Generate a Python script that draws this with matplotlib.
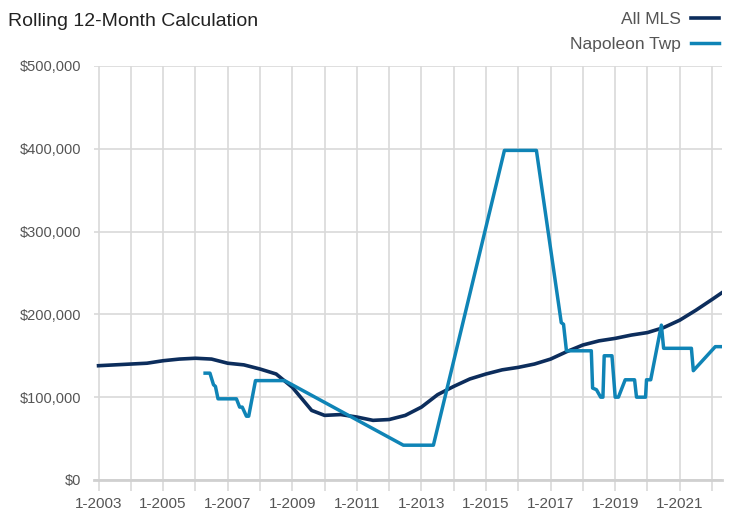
import matplotlib
matplotlib.use("Agg")
import matplotlib.pyplot as plt
from matplotlib.ticker import FuncFormatter, MultipleLocator

plt.rcParams["font.family"] = ["Liberation Sans", "DejaVu Sans"]

# fractional year, price in $1000s
mls_years = [2003.0, 2003.5, 2004.0, 2004.5, 2005.0, 2005.5, 2006.0, 2006.5, 2007.0, 2007.5,
             2008.0, 2008.5, 2009.0, 2009.3, 2009.6, 2010.0, 2010.5, 2011.0, 2011.5, 2012.0,
             2012.5, 2013.0, 2013.5, 2014.0, 2014.5, 2015.0, 2015.5, 2016.0, 2016.5, 2017.0,
             2017.5, 2018.0, 2018.5, 2019.0, 2019.5, 2020.0, 2020.5, 2021.0, 2021.5, 2022.0, 2022.3]
mls_price = [138, 139, 140, 141, 144, 146, 147, 146, 141, 139,
             134, 128, 112, 98, 84, 78, 79, 76, 72, 73,
             78, 88, 103, 113, 122, 128, 133, 136, 140, 146,
             155, 163, 168, 171, 175, 178, 184, 193, 205, 218, 226]

twp_years = [2006.3, 2006.45, 2006.56, 2006.62, 2006.7, 2007.27, 2007.37, 2007.45, 2007.58, 2007.65,
             2007.86, 2008.76, 2012.44, 2013.37, 2015.57, 2016.56, 2017.33, 2017.4, 2017.49, 2018.26,
             2018.3, 2018.42, 2018.55, 2018.62, 2018.66, 2018.9, 2019.0, 2019.1, 2019.19, 2019.31,
             2019.6, 2019.66, 2019.94, 2019.97, 2020.1, 2020.43, 2020.5, 2021.36, 2021.42, 2022.1, 2022.32]
twp_price = [129, 129, 115, 113, 98, 98, 88, 88, 77, 77,
             120, 120, 42, 42, 398, 398, 190, 188, 156, 156,
             111, 109, 100, 100, 150, 150, 100, 100, 109, 121,
             121, 100, 100, 121, 121, 187, 159, 159, 132, 161, 161]

label_years = list(range(2003, 2023, 2))

fig = plt.figure(figsize=(7.32, 5.15), dpi=100)
ax = fig.add_axes([0.128, 0.068, 0.858, 0.804])

ax.plot(mls_years, [p * 1000 for p in mls_price], color="#0c2d5c", lw=2.6, label="All MLS",
        solid_joinstyle="round", zorder=3)
ax.plot(twp_years, [p * 1000 for p in twp_price], color="#0f84b6", lw=2.5, label="Napoleon Twp",
        solid_joinstyle="round", zorder=3)

ax.set_xlim(2002.85, 2022.3)
ax.set_ylim(0, 500000)
ax.yaxis.set_major_locator(MultipleLocator(100000))
ax.yaxis.set_major_formatter(FuncFormatter(lambda v, _: f"${v:,.0f}"))
ax.xaxis.set_major_locator(MultipleLocator(1))
ax.xaxis.set_major_formatter(FuncFormatter(
    lambda v, _: f"1-{int(round(v))}" if int(round(v)) in label_years else ""))

ax.grid(True, color="#d9d9d9", lw=1.2)
ax.set_axisbelow(True)
for s in ["top", "right", "left"]:
    ax.spines[s].set_visible(False)
ax.spines["bottom"].set_color("#d0d0d0")
ax.spines["bottom"].set_linewidth(2)
ax.tick_params(axis="x", length=8, width=1.2, color="#d9d9d9", labelsize=11,
               labelcolor="#555555", pad=4)
ax.tick_params(axis="y", length=0, labelsize=10.5, labelcolor="#555555", pad=9)

fig.text(0.011, 0.975, "Rolling 12-Month Calculation", fontsize=14, color="#222222",
         ha="left", va="top")
fig.legend(loc="upper right", bbox_to_anchor=(1.003, 1.007), frameon=False, markerfirst=False,
           fontsize=12.5, labelcolor="#555555", handlelength=1.6, handletextpad=0.6,
           labelspacing=0.55)

fig.savefig("out.png", dpi=100)
